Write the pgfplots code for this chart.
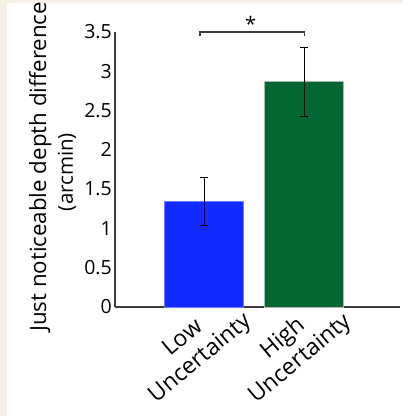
\documentclass[border=0pt]{standalone}
\usepackage{fontspec}
\setmainfont{Open Sans}
\usepackage{pgfplots}
\pgfplotsset{compat=1.18}
\definecolor{lowblue}{RGB}{16,42,255}
\definecolor{highgreen}{RGB}{4,102,48}
\definecolor{page}{RGB}{245,241,233}
\definecolor{axisgray}{RGB}{60,60,60}
\begin{document}
\begin{tikzpicture}[x=1pt,y=1pt]
\fill[page] (0,0) rectangle (403,416);
\fill[white] (7,0) rectangle (403,413);
\useasboundingbox (0,0) rectangle (403,416);
\begin{axis}[
  at={(115pt,109pt)}, anchor=south west,
  scale only axis, width=285pt, height=275pt,
  xmin=0.105, xmax=2.96, ymin=0, ymax=3.5,
  axis x line=bottom, axis y line=left,
  axis line style={-, line width=1.4pt, axisgray},
  major tick length=0pt,
  xtick={1,2},
  xticklabels={Low\\Uncertainty, High\\Uncertainty},
  xticklabel style={xshift=-12pt, yshift=-42pt, rotate=40, anchor=center,
    align=center, inner sep=0pt,
    font=\fontsize{23}{27}\selectfont},
  ytick={0,0.5,...,3.5},
  yticklabels={0,0.5,1,1.5,2,2.5,3,3.5},
  yticklabel style={font=\fontsize{19.5}{21}\selectfont, inner sep=0pt, xshift=-3pt},
  ybar, bar width=79pt, bar shift=0pt,
  clip=false,
]
% low-uncertainty condition
\addplot[fill=lowblue, draw=lowblue!60!white, line width=0.8pt,
  error bars/.cd, y dir=both, y explicit,
  error bar style={line width=1pt, black},
  error mark options={rotate=90, mark size=4pt, line width=1pt, black}]
  coordinates {(1,1.345) +- (0,0.305)};
% high-uncertainty condition
\addplot[fill=highgreen, draw=black!30, line width=0.8pt,
  error bars/.cd, y dir=both, y explicit,
  error bar style={line width=1pt, black},
  error mark options={rotate=90, mark size=4pt, line width=1pt, black}]
  coordinates {(2,2.865) +- (0,0.44)};
% significance bracket
\draw[axisgray, line width=1.6pt]
  (axis cs:0.955,3.45) -- (axis cs:0.955,3.5) -- (axis cs:2.005,3.5) -- (axis cs:2.005,3.45);
\node[font=\fontsize{20}{20}\selectfont] at (axis cs:1.465,3.6) {*};
\end{axis}
% y-axis title, two lines
\node[rotate=90, anchor=base west, inner sep=0pt, font=\fontsize{22.3}{26}\selectfont]
  at (46,84) {Just noticeable depth difference};
\node[rotate=90, anchor=base, inner sep=0pt, font=\fontsize{20.5}{24}\selectfont]
  at (73,244) {(arcmin)};
\end{tikzpicture}
\end{document}
